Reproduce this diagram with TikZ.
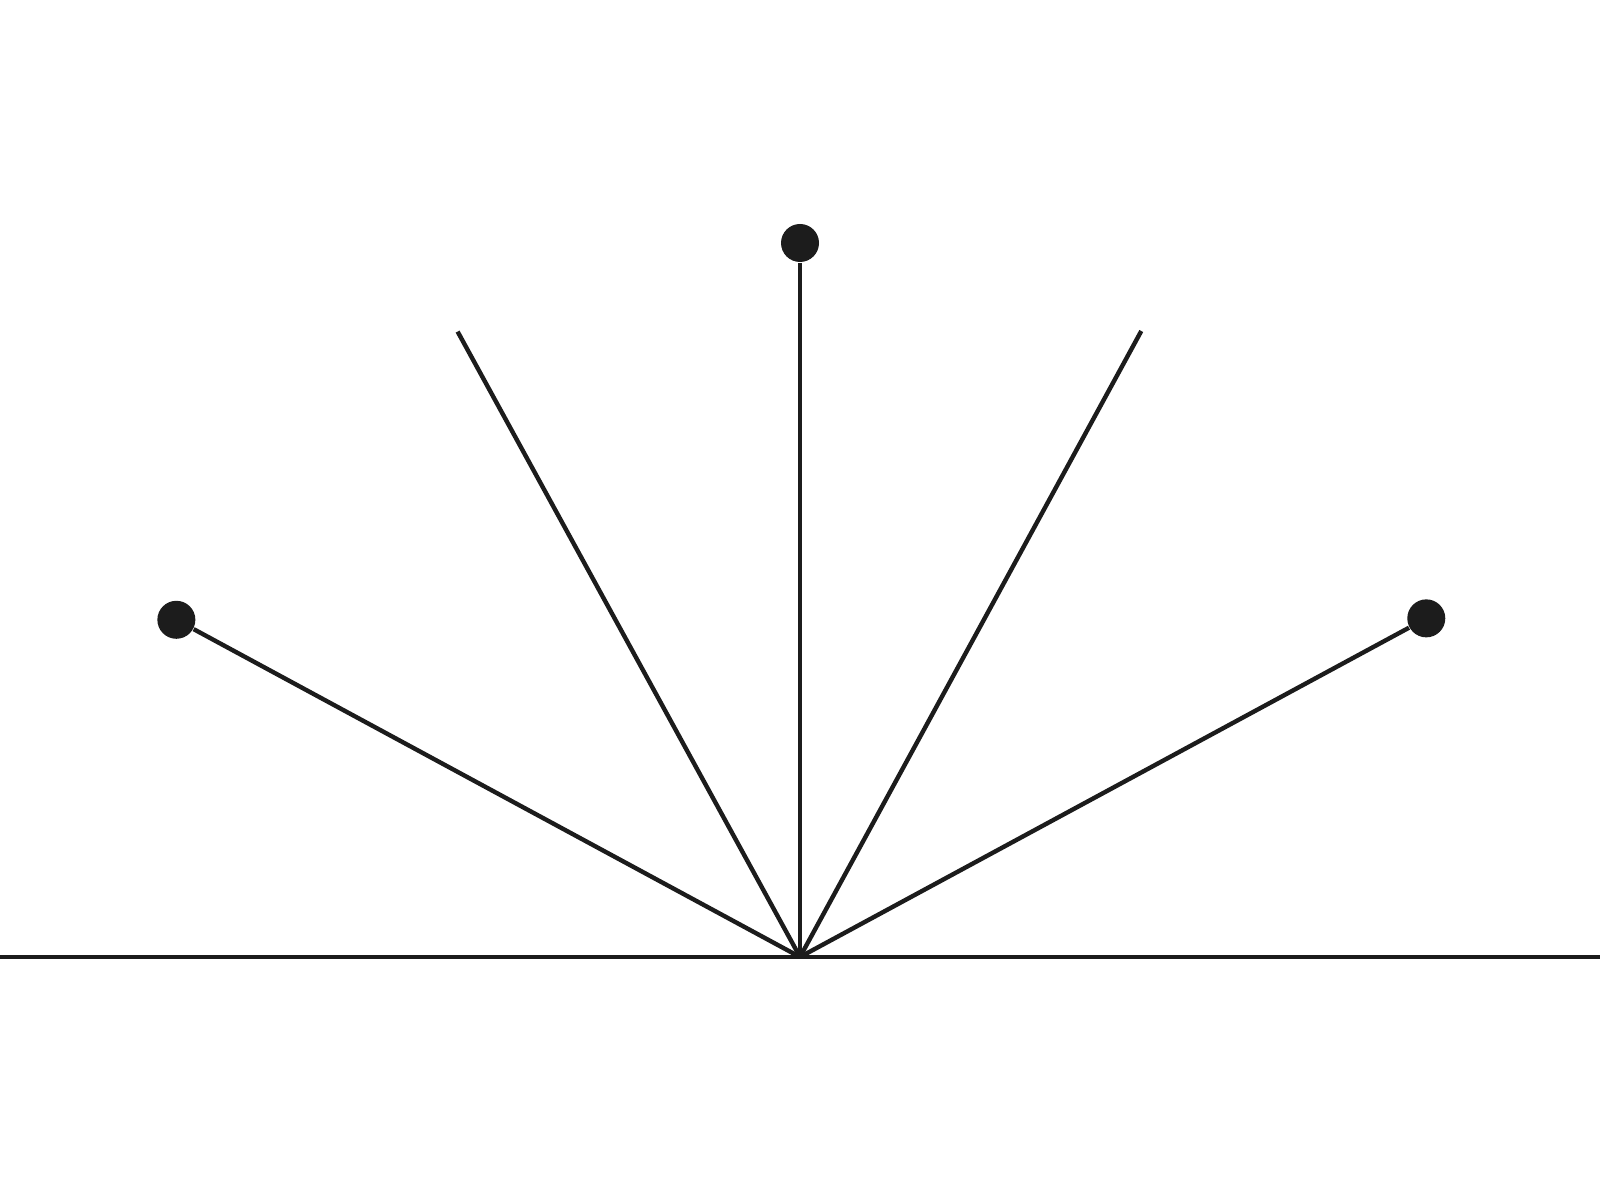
\documentclass[tikz,border=0pt]{standalone}
\usepackage{tikz}
\usetikzlibrary{positioning,calc}
\tikzstyle{ray} = [line width=1.25pt, draw={rgb,255:red,28;green,28;blue,28}]
\tikzstyle{bob} = [circle, inner sep=0pt, minimum size=0.38cm, fill={rgb,255:red,28;green,28;blue,28}]

\begin{document}
\begin{tikzpicture}
        \useasboundingbox (0,0) rectangle (16,11.84);
        \coordinate (origin) at (8,2.27);
        \coordinate (floorL) at (0,2.27);
        \coordinate (floorR) at (16,2.27);

        \node (bobL) [bob] at ($(origin)+(151.6:7.09)$) {};
        \node (bobT) [bob] at ($(origin)+(90:7.14)$) {};
        \node (bobR) [bob] at ($(origin)+(28.4:7.12)$) {};
        \coordinate (endL) at ($(origin)+(118.7:7.13)$);
        \coordinate (endR) at ($(origin)+(61.4:7.13)$);

        \draw [ray] (floorL) -- (floorR);
        \foreach \tip in {bobL,endL,bobT,endR,bobR}
            \draw [ray] (origin) -- (\tip);
    \end{tikzpicture}
\end{document}
